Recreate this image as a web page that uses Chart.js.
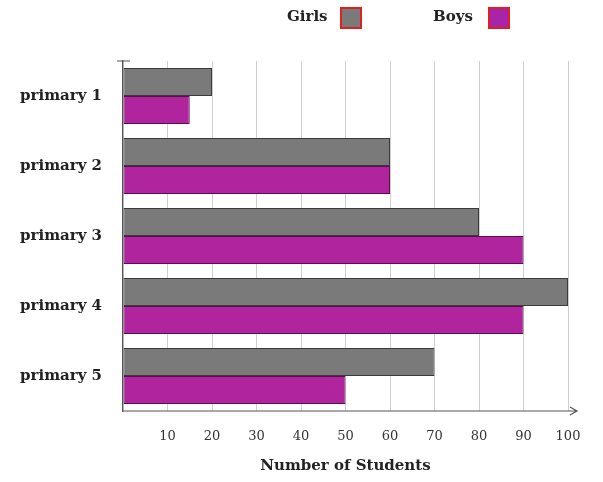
<!DOCTYPE html>
<html>
<head>
<meta charset="utf-8">
<script src="https://cdn.jsdelivr.net/npm/chart.js@4/dist/chart.umd.min.js"></script>
<style>
  html,body{margin:0;padding:0;background:#fff;}
  #wrap{position:relative;width:603px;height:482px;}
  canvas{position:absolute;left:0;top:0;}
  .lg{position:absolute;top:7px;line-height:20px;font:bold 15px "DejaVu Serif",serif;color:#222;}
  .bx{position:absolute;top:7px;width:18px;height:18px;border:2px solid #e02020;}
</style>
</head>
<body>
<div id="wrap">
  <canvas id="c" width="603" height="482"></canvas>
  <div class="lg" style="left:287px">Girls</div>
  <div class="bx" style="left:340px;background:#7a7a7a"></div>
  <div class="lg" style="left:433px">Boys</div>
  <div class="bx" style="left:488px;background:#a824a8"></div>
</div>
<script>
const categories = ["primary 1","primary 2","primary 3","primary 4","primary 5"];
const girls = [20, 60, 80, 100, 70];
const boys = [15, 60, 90, 90, 50];
const xTicks = [0,10,20,30,40,50,60,70,80,90,100];

const arrowPlugin = {
  id: 'arrow',
  afterDraw(chart){
    const ctx = chart.ctx, xs = chart.scales.x, ys = chart.scales.y;
    const y0 = ys.bottom, x0 = xs.left;
    ctx.save();
    ctx.strokeStyle = '#555';
    ctx.lineWidth = 1.2;
    ctx.beginPath();
    ctx.moveTo(xs.left, y0); ctx.lineTo(xs.right + 9, y0);
    ctx.moveTo(xs.right + 2, y0 - 4); ctx.lineTo(xs.right + 9, y0); ctx.lineTo(xs.right + 2, y0 + 4);
    ctx.moveTo(x0 - 6, ys.top); ctx.lineTo(x0 + 7, ys.top);
    ctx.stroke();
    ctx.restore();
  }
};

new Chart(document.getElementById('c'), {
  type: 'bar',
  data: {
    labels: categories,
    datasets: [
      {label:'Girls', data: girls, backgroundColor:'#7a7a7a', borderColor:'#3a3a3a', borderWidth:1, borderSkipped:false},
      {label:'Boys', data: boys, backgroundColor:'#b0249e', borderColor:'#5a1050', borderWidth:1, borderSkipped:false}
    ]
  },
  options: {
    indexAxis: 'y',
    responsive: false,
    animation: false,
    layout: {padding: {top: 61, right: 35, left: 0, bottom: 0}},
    plugins: {legend: {display:false}, tooltip:{enabled:false}},
    datasets: {bar: {categoryPercentage: 0.8, barPercentage: 1.0}},
    scales: {
      x: {
        min: 0, max: 100,
        afterBuildTicks(s){ s.ticks = xTicks.map(v => ({value:v})); },
        afterFit(s){ s.height = 71; },
        grid: {color:'#cfcfcf', drawTicks:false, lineWidth:1},
        border: {display:false},
        ticks: {
          padding: 18,
          color:'#333',
          font:{family:'"DejaVu Serif",serif', size:13},
          callback: v => v === 0 ? '' : String(v)
        },
        title: {
          display: true, text: 'Number of Students', color:'#222',
          font:{family:'"DejaVu Serif",serif', size:15, weight:'bold'},
          padding: {top: 4, bottom: 7}
        }
      },
      y: {
        afterFit(s){ s.width = 123; },
        grid: {display:false},
        border: {display:true, color:'#555', width:1.2},
        ticks: {
          padding: 13,
          color:'#222',
          font:{family:'"DejaVu Serif",serif', size:15, weight:'bold'}
        }
      }
    }
  },
  plugins: [arrowPlugin]
});
</script>
</body>
</html>
